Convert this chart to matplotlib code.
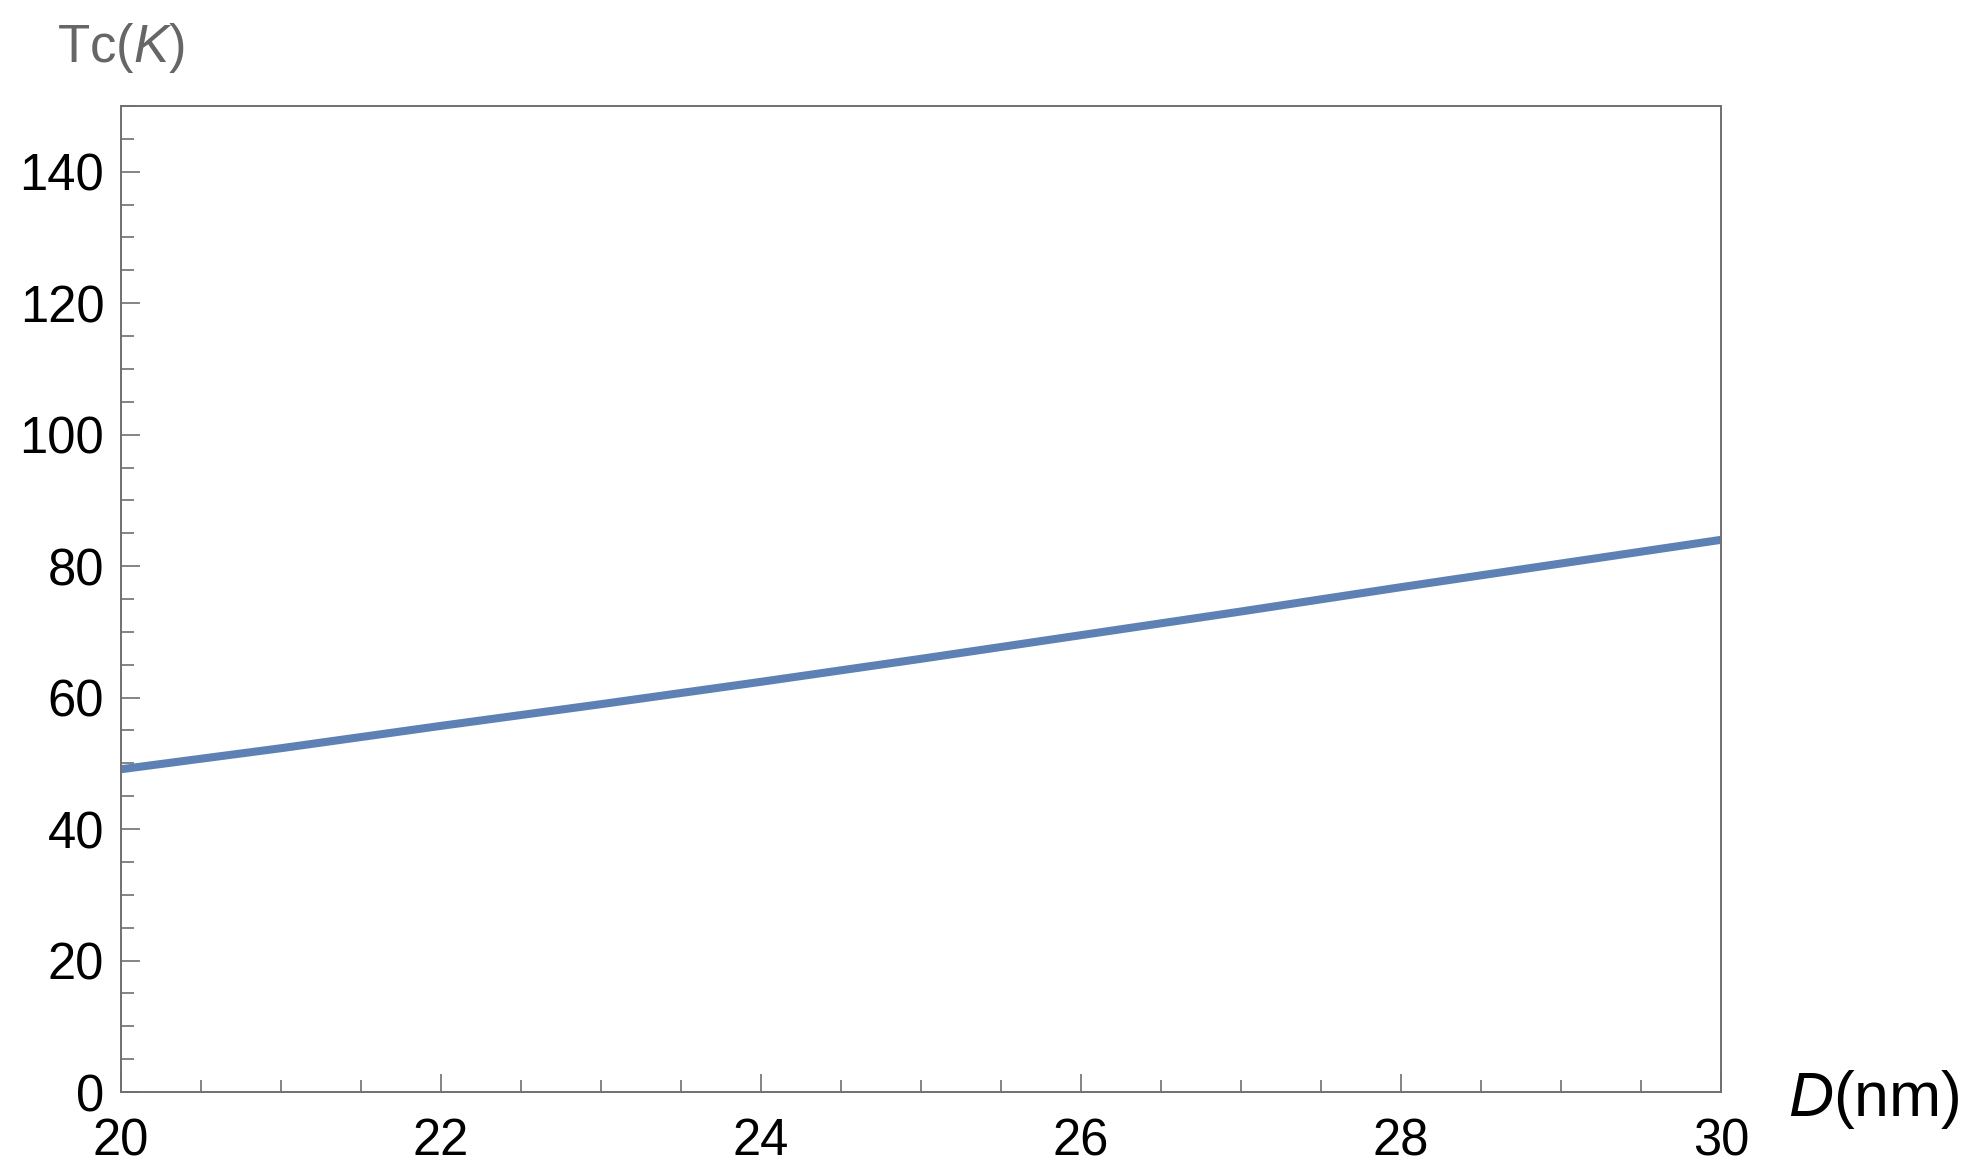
import matplotlib
matplotlib.use("Agg")
import matplotlib.pyplot as plt
from matplotlib.ticker import MultipleLocator

plt.rcParams['font.family'] = ['Liberation Sans', 'DejaVu Sans']
plt.rcParams['mathtext.fontset'] = 'custom'
plt.rcParams['mathtext.rm'] = 'Liberation Sans'
plt.rcParams['mathtext.it'] = 'Liberation Sans:italic'

# Data
D_nm = [20, 21, 22, 23, 24, 25, 26, 27, 28, 29, 30]
Tc_K = [49.1, 52.3, 55.7, 59.0, 62.4, 65.9, 69.5, 73.1, 76.8, 80.4, 84.0]
x_ticks = [20, 22, 24, 26, 28, 30]
y_ticks = [0, 20, 40, 60, 80, 100, 120, 140]

W, H = 1982, 1176
fig = plt.figure(figsize=(W / 100, H / 100), dpi=100)
left, right, bottom, top = 121, 1721, 1092, 106
ax = fig.add_axes([left / W, 1 - bottom / H, (right - left) / W, (bottom - top) / H])

ax.plot(D_nm, Tc_K, color='#5E81B5', lw=5.8, solid_capstyle='butt', clip_on=False)

ax.set_xlim(20, 30)
ax.set_ylim(0, 150)
ax.set_xticks(x_ticks)
ax.set_yticks(y_ticks)
ax.xaxis.set_minor_locator(MultipleLocator(0.5))
ax.yaxis.set_minor_locator(MultipleLocator(5))

spine_col = '#707070'
for s in ax.spines.values():
    s.set_color(spine_col)
    s.set_linewidth(1.4)

ax.tick_params(which='both', direction='in', colors=spine_col, labelcolor='black',
               top=False, right=False, labelsize=36.5, width=1.2)
ax.tick_params(axis='y', which='major', length=13.5, pad=12)
ax.tick_params(axis='y', which='minor', length=9)
ax.tick_params(axis='x', which='major', length=13, pad=18)
ax.tick_params(axis='x', which='minor', length=8.5)

fig.text(57 / W, 1 - 62 / H, r'Tc($\mathit{K}$)', fontsize=38, color='#666666',
         ha='left', va='baseline')
fig.text(1788 / W, 1 - 1116 / H, r'$\mathit{D}$(nm)', fontsize=45, color='black',
         ha='left', va='baseline')

fig.savefig('out.png', dpi=100)
